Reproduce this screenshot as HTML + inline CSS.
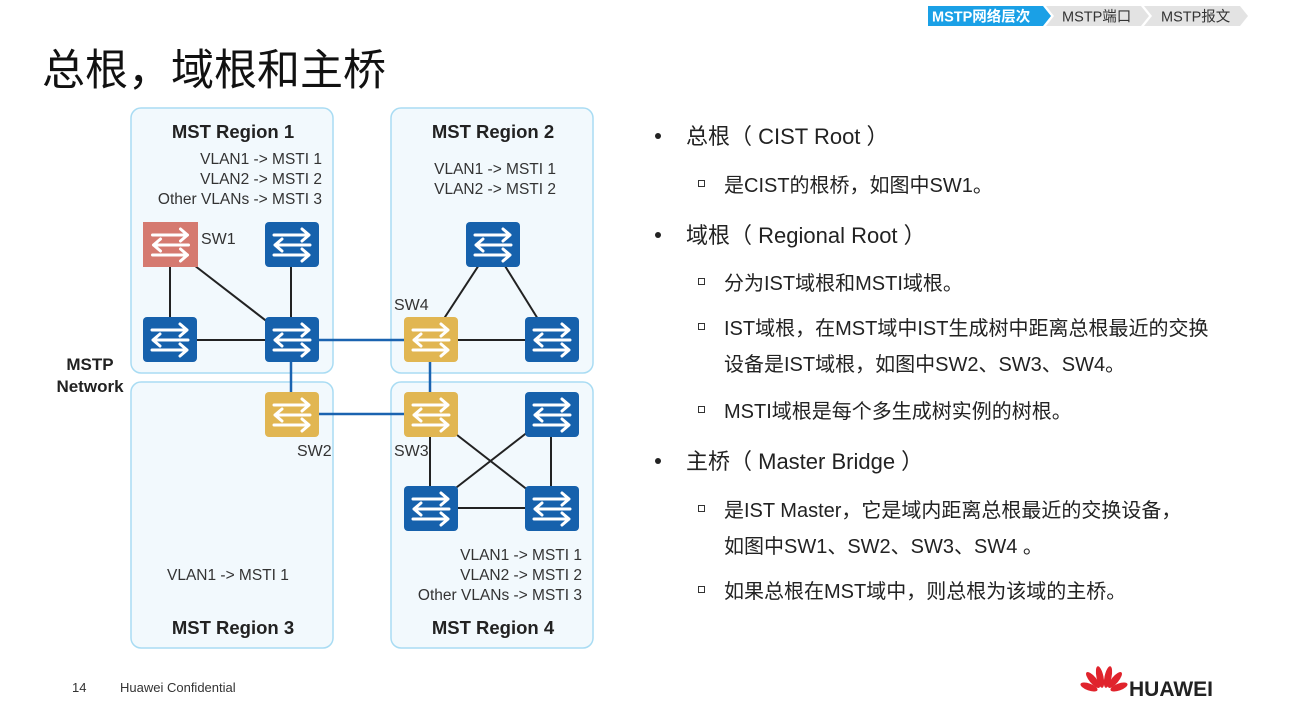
<!DOCTYPE html>
<html><head><meta charset="utf-8"><style>
body{margin:0;width:1292px;height:718px;background:#fff;position:relative;overflow:hidden;font-family:"Liberation Sans","Noto Sans CJK SC",sans-serif;color:#222}
.t{position:absolute;white-space:nowrap}
.sq{position:absolute;width:5px;height:5px;border:1.5px solid #333}
.dot{position:absolute;width:6px;height:6px;border-radius:50%;background:#222}
</style></head><body>
<svg width="1292" height="718" style="position:absolute;left:0;top:0">
<defs>
<symbol id="ic" viewBox="0 0 54 45">
<g stroke="#fff" stroke-width="3" fill="none" stroke-linecap="round" stroke-linejoin="round">
<path d="M9 13H44M37 7L44 13L37 19"/>
<path d="M45 23H10M17 17L10 23L17 29"/>
<path d="M9 33H44M37 27L44 33L37 39"/>
</g></symbol>
</defs>
<polygon points="928,6 1043,6 1051,16 1043,26 928,26" fill="#1aa0e6"/>
<polygon points="1046,6 1141,6 1149,16 1141,26 1046,26 1054,16" fill="#e3e3e3"/>
<polygon points="1144,6 1240,6 1248,16 1240,26 1144,26 1152,16" fill="#e3e3e3"/>
<text x="932" y="21.5" font-size="14.5" font-weight="bold" fill="#fff" font-family="Liberation Sans,Noto Sans CJK SC,sans-serif">MSTP网络层次</text>
<text x="1062" y="21.5" font-size="14.5" fill="#333" font-family="Liberation Sans,Noto Sans CJK SC,sans-serif">MSTP端口</text>
<text x="1161" y="21.5" font-size="14.5" fill="#333" font-family="Liberation Sans,Noto Sans CJK SC,sans-serif">MSTP报文</text>
<g fill="#f2f9fd" stroke="#a9dcf3" stroke-width="1.5">
<rect x="131" y="108" width="202" height="265" rx="10"/>
<rect x="391" y="108" width="202" height="265" rx="10"/>
<rect x="131" y="382" width="202" height="266" rx="10"/>
<rect x="391" y="382" width="202" height="266" rx="10"/>
</g>
<g stroke="#222" stroke-width="2">
<line x1="170" y1="245" x2="170" y2="340"/>
<line x1="190" y1="262" x2="291" y2="340"/>
<line x1="291" y1="245" x2="291" y2="340"/>
<line x1="170" y1="340" x2="291" y2="340"/>
<line x1="492" y1="245" x2="430" y2="340"/>
<line x1="492" y1="245" x2="551" y2="340"/>
<line x1="430" y1="340" x2="551" y2="340"/>
<line x1="430" y1="414" x2="430" y2="508"/>
<line x1="430" y1="414" x2="551" y2="508"/>
<line x1="551" y1="414" x2="430" y2="508"/>
<line x1="551" y1="414" x2="551" y2="508"/>
<line x1="430" y1="508" x2="551" y2="508"/>
</g>
<g stroke="#1a63b0" stroke-width="2.5">
<line x1="291" y1="340" x2="430" y2="340"/>
<line x1="291" y1="340" x2="291" y2="414"/>
<line x1="430" y1="340" x2="430" y2="414"/>
<line x1="291" y1="414" x2="430" y2="414"/>
</g>
<g>
<rect x="143" y="222" width="55" height="45" fill="#d57a70"/><use href="#ic" x="143" y="222" width="55" height="45"/>
<rect x="265" y="222" width="54" height="45" rx="4" fill="#1661ac"/><use href="#ic" x="265" y="222" width="54" height="45"/>
<rect x="143" y="317" width="54" height="45" rx="4" fill="#1661ac"/><use href="#ic" x="143" y="317" width="54" height="45"/>
<rect x="265" y="317" width="54" height="45" rx="4" fill="#1661ac"/><use href="#ic" x="265" y="317" width="54" height="45"/>
<rect x="466" y="222" width="54" height="45" rx="4" fill="#1661ac"/><use href="#ic" x="466" y="222" width="54" height="45"/>
<rect x="404" y="317" width="54" height="45" rx="4" fill="#e1b652"/><use href="#ic" x="404" y="317" width="54" height="45"/>
<rect x="525" y="317" width="54" height="45" rx="4" fill="#1661ac"/><use href="#ic" x="525" y="317" width="54" height="45"/>
<rect x="265" y="392" width="54" height="45" rx="4" fill="#e1b652"/><use href="#ic" x="265" y="392" width="54" height="45"/>
<rect x="404" y="392" width="54" height="45" rx="4" fill="#e1b652"/><use href="#ic" x="404" y="392" width="54" height="45"/>
<rect x="525" y="392" width="54" height="45" rx="4" fill="#1661ac"/><use href="#ic" x="525" y="392" width="54" height="45"/>
<rect x="404" y="486" width="54" height="45" rx="4" fill="#1661ac"/><use href="#ic" x="404" y="486" width="54" height="45"/>
<rect x="525" y="486" width="54" height="45" rx="4" fill="#1661ac"/><use href="#ic" x="525" y="486" width="54" height="45"/>
</g>
<g font-family="Liberation Sans,sans-serif" font-size="16" fill="#333">
<text x="201" y="244">SW1</text>
<text x="394" y="310">SW4</text>
<text x="297" y="456">SW2</text>
<text x="394" y="456">SW3</text>
<g text-anchor="end" font-size="15.5">
<text x="322" y="164">VLAN1 -&gt; MSTI 1</text>
<text x="322" y="184">VLAN2 -&gt; MSTI 2</text>
<text x="322" y="204">Other VLANs -&gt; MSTI 3</text>
<text x="556" y="174">VLAN1 -&gt; MSTI 1</text>
<text x="556" y="194">VLAN2 -&gt; MSTI 2</text>
<text x="582" y="560">VLAN1 -&gt; MSTI 1</text>
<text x="582" y="580">VLAN2 -&gt; MSTI 2</text>
<text x="582" y="600">Other VLANs -&gt; MSTI 3</text>
</g>
<text x="167" y="580" font-size="15.5">VLAN1 -&gt; MSTI 1</text>
<g font-weight="bold" font-size="18.5" fill="#222" text-anchor="middle">
<text x="233" y="138">MST Region 1</text>
<text x="493" y="138">MST Region 2</text>
<text x="233" y="634">MST Region 3</text>
<text x="493" y="634">MST Region 4</text>
<text x="90" y="370" font-size="17">MSTP</text>
<text x="90" y="392" font-size="17">Network</text>
</g>
</g>
<g transform="translate(1104,692)" fill="#e0232c">
<ellipse cx="-15" cy="-5" rx="3.5" ry="9" transform="rotate(-70 -15 -5)"/>
<ellipse cx="-11" cy="-12" rx="3.5" ry="10" transform="rotate(-40 -11 -12)"/>
<ellipse cx="-4" cy="-15" rx="3.5" ry="11" transform="rotate(-12 -4 -15)"/>
<ellipse cx="4" cy="-15" rx="3.5" ry="11" transform="rotate(12 4 -15)"/>
<ellipse cx="11" cy="-12" rx="3.5" ry="10" transform="rotate(40 11 -12)"/>
<ellipse cx="15" cy="-5" rx="3.5" ry="9" transform="rotate(70 15 -5)"/>
</g>
<text x="1129" y="696" font-family="Liberation Sans,sans-serif" font-weight="bold" font-size="21" fill="#222">HUAWEI</text>
</svg>
<div class="t" style="left:42px;top:36px;font-size:43px;color:#111">总根，域根和主桥</div>
<div class="t" style="left:72px;top:680px;font-size:13px;color:#333">14</div>
<div class="t" style="left:120px;top:680px;font-size:13px;color:#333">Huawei Confidential</div>
<div class="dot" style="left:655px;top:133px"></div>
<div class="dot" style="left:655px;top:232px"></div>
<div class="dot" style="left:655px;top:458px"></div>
<div style="position:absolute;left:0;top:0;font-size:22px;color:#222">
<div class="t" style="left:686px;top:119px">总根（ CIST Root ）</div>
<div class="t" style="left:686px;top:218px">域根（ Regional Root ）</div>
<div class="t" style="left:686px;top:444px">主桥（ Master Bridge ）</div>
</div>
<div class="sq" style="left:698px;top:180px"></div>
<div class="sq" style="left:698px;top:278px"></div>
<div class="sq" style="left:698px;top:323px"></div>
<div class="sq" style="left:698px;top:406px"></div>
<div class="sq" style="left:698px;top:505px"></div>
<div class="sq" style="left:698px;top:586px"></div>
<div style="position:absolute;left:0;top:0;font-size:20px;color:#222">
<div class="t" style="left:724px;top:169px">是CIST的根桥，如图中SW1。</div>
<div class="t" style="left:724px;top:267px">分为IST域根和MSTI域根。</div>
<div class="t" style="left:724px;top:312px">IST域根，在MST域中IST生成树中距离总根最近的交换</div>
<div class="t" style="left:724px;top:348px">设备是IST域根，如图中SW2、SW3、SW4。</div>
<div class="t" style="left:724px;top:395px">MSTI域根是每个多生成树实例的树根。</div>
<div class="t" style="left:724px;top:494px">是IST Master，它是域内距离总根最近的交换设备，</div>
<div class="t" style="left:724px;top:530px">如图中SW1、SW2、SW3、SW4 。</div>
<div class="t" style="left:724px;top:575px">如果总根在MST域中，则总根为该域的主桥。</div>
</div>
</body></html>
